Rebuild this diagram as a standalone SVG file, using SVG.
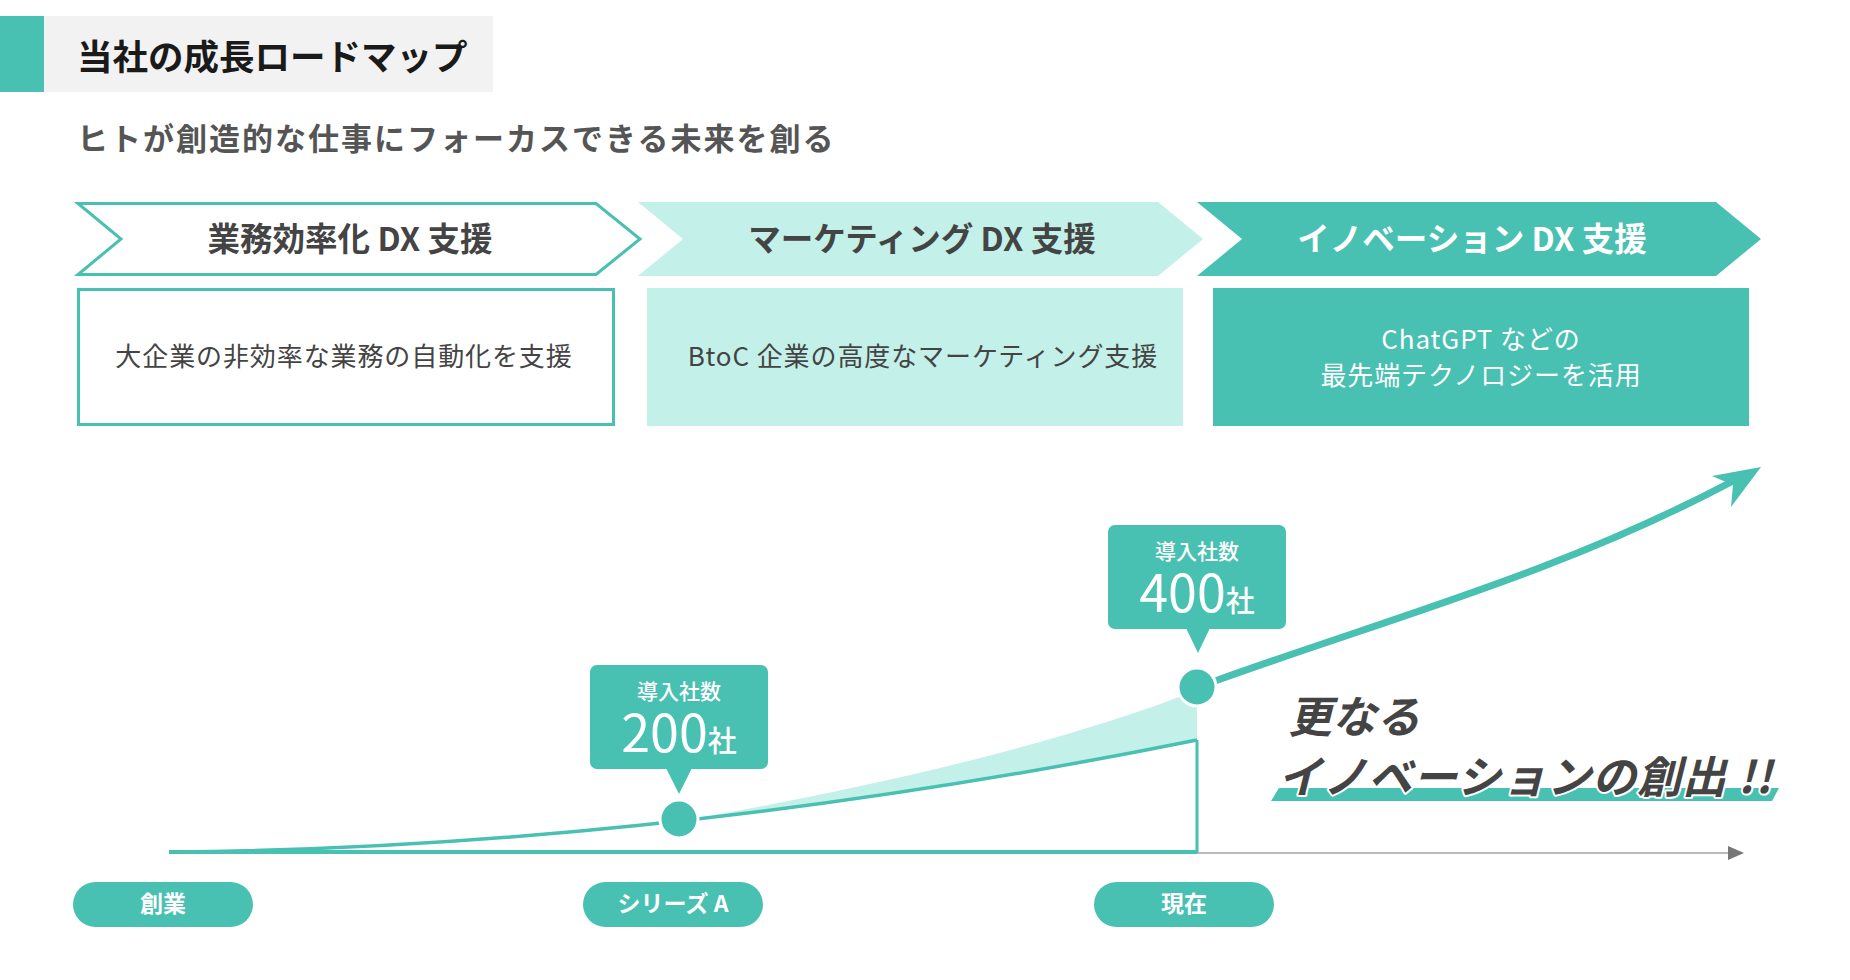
<svg xmlns="http://www.w3.org/2000/svg" width="1850" height="980" viewBox="0 0 1850 980">
<style>
text{font-family:"Noto Sans CJK JP","Noto Sans",sans-serif}
.teal{fill:#48c0b2}
.light{fill:#c3f0e8}
.h1{font-size:35.5px;font-weight:700;fill:#1a1a1a}
.sub{font-size:31px;font-weight:700;fill:#555;letter-spacing:2px}
.chev{font-size:32.5px;font-weight:700;fill:#444;text-anchor:middle}
.box{font-size:26px;font-weight:400;fill:#444;text-anchor:middle;letter-spacing:0.9px}
.cl{font-size:21px;font-weight:500;fill:#fff;text-anchor:middle}
.num{font-size:52px;font-weight:400}
.unit{font-size:29px;font-weight:500}
.pill{font-size:23px;font-weight:700;fill:#fff;text-anchor:middle}
.big{font-size:44px;font-weight:700;font-style:italic;fill:#444;stroke:#fff;stroke-width:4px;paint-order:stroke;stroke-linejoin:round}
.dot{fill:#48c0b2;stroke:#fff;stroke-width:3}
</style>
<rect width="1850" height="980" fill="#fff"/>

<g id="header">
<rect x="44" y="16" width="449" height="76" fill="#f2f2f2"/>
<rect x="0" y="16" width="44" height="76" class="teal"/>
<text x="77" y="70" class="h1">当社の成長ロードマップ</text>
<text x="77" y="150" class="sub">ヒトが創造的な仕事にフォーカスできる未来を創る</text>
</g>

<g id="phase1">
<polygon points="78,203.5 596,203.5 640,239 596,274.5 78,274.5 121,239" fill="#fff" stroke="#48c0b2" stroke-width="3"/>
<text x="350" y="251" class="chev">業務効率化 DX 支援</text>
<rect x="78.5" y="289.5" width="535" height="135" fill="#fff" stroke="#48c0b2" stroke-width="3"/>
<text x="344" y="366" class="box">大企業の非効率な業務の自動化を支援</text>
</g>

<g id="phase2">
<polygon points="638,202 1158,202 1203,239 1158,276 638,276 683,239" class="light"/>
<text x="922" y="251" class="chev">マーケティング DX 支援</text>
<rect x="647" y="288" width="536" height="138" class="light"/>
<text x="923" y="366" class="box">BtoC 企業の高度なマーケティング支援</text>
</g>

<g id="phase3">
<polygon points="1197,202 1716,202 1761,239 1716,276 1197,276 1242,239" class="teal"/>
<text x="1472" y="251" class="chev" style="fill:#fff">イノベーション DX 支援</text>
<rect x="1213" y="288" width="536" height="138" class="teal"/>
<text x="1481" y="349" class="box" style="fill:#fff">ChatGPT などの</text>
<text x="1481" y="385" class="box" style="fill:#fff">最先端テクノロジーを活用</text>
</g>

<g id="connectors">
<path d="M681.3,820.8 C850,792 1060,745 1197,690 L1197,740 C1014.4,776.8 841.7,803 681.3,820.8 Z" class="light"/>
<line x1="1197" y1="853" x2="1732" y2="853" stroke="#bbb" stroke-width="2"/>
<polygon points="1728,846 1744,853 1728,860" fill="#777"/>
<line x1="169" y1="852" x2="1197" y2="852" stroke="#48c0b2" stroke-width="4"/>
<line x1="1197" y1="740" x2="1197" y2="853" stroke="#48c0b2" stroke-width="3"/>
<path d="M171,852 C450,850 800,820 1197,740" fill="none" stroke="#48c0b2" stroke-width="3.5"/>
<path d="M1215,681 C1390,618 1560,573 1735,480" fill="none" stroke="#48c0b2" stroke-width="7"/>
<polygon points="1761,467 1712,476 1733,485 1731,507" class="teal"/>
</g>

<g id="milestone200">
<rect x="590" y="665" width="178" height="104" rx="7" class="teal"/>
<polygon points="666,768 692,768 679,794" class="teal"/>
<text x="679" y="699" class="cl">導入社数<tspan x="679" y="752" class="num">200</tspan><tspan class="unit">社</tspan></text>
<circle cx="679" cy="819" r="19" class="dot"/>
</g>

<g id="milestone400">
<rect x="1108" y="525" width="178" height="104" rx="7" class="teal"/>
<polygon points="1186,628 1210,628 1198,653" class="teal"/>
<text x="1197" y="559" class="cl">導入社数<tspan x="1197" y="612" class="num">400</tspan><tspan class="unit">社</tspan></text>
<circle cx="1197" cy="687" r="19" class="dot"/>
</g>

<g id="future">
<polygon points="1279,788 1779,788 1772,801 1271,801" class="teal"/>
<text x="1288" y="733" class="big">更なる</text>
<text x="1278" y="793" class="big" style="letter-spacing:1px">イノベーションの創出 !!</text>
</g>

<g id="label-founding">
<rect x="73" y="882" width="180" height="45" rx="22.5" class="teal"/>
<text x="163" y="912" class="pill">創業</text>
</g>
<g id="label-seriesA">
<rect x="583" y="882" width="180" height="45" rx="22.5" class="teal"/>
<text x="673" y="912" class="pill">シリーズ A</text>
</g>
<g id="label-now">
<rect x="1094" y="882" width="180" height="45" rx="22.5" class="teal"/>
<text x="1184" y="912" class="pill">現在</text>
</g>
</svg>
